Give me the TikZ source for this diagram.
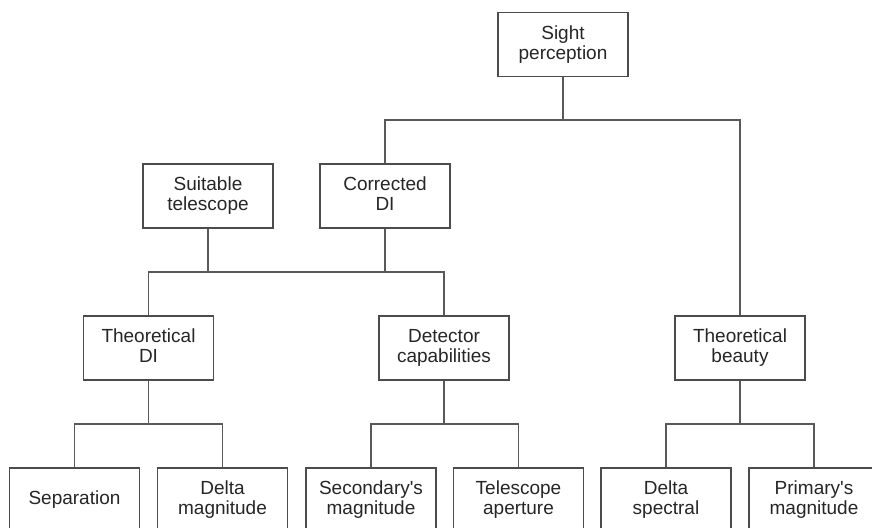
\documentclass[tikz,border=0pt]{standalone}
\usepackage{fontspec}
\setmainfont{Liberation Sans}
\usepackage{tikz}
\usetikzlibrary{positioning,calc}

\begin{document}
\begin{tikzpicture}[
  x=0.5pt, y=-0.5pt,
  box/.style={rectangle, draw=black!70, line width=0.7pt, fill=white,
    minimum width=65pt, minimum height=32pt, inner sep=0pt,
    font=\fontsize{9.5}{10}\selectfont, text=black!85, align=center,
    execute at begin node=\vphantom{Ig}, execute at end node=\vphantom{Ig}},
  link/.style={draw=black!65, line width=0.7pt}
]
  \useasboundingbox (0,0) rectangle (872,527);
  \clip (0,0) rectangle (872,527);

  \node[box] (sight) at (563, 44.5) {Sight\\perception};

  \node[box] (suitable) at (208, 196) {Suitable\\telescope};
  \node[box] (corrected) at (385, 196) {Corrected\\DI};

  \node[box] (theodi) at (148.5, 348) {Theoretical\\DI};
  \node[box] (detector) at (444, 348) {Detector\\capabilities};
  \node[box] (beauty) at (740, 348) {Theoretical\\beauty};

  \node[box] (separation) at (74.5, 500) {Separation};
  \node[box] (deltamag) at (222.5, 500) {Delta\\magnitude};
  \node[box] (secmag) at (371, 500) {Secondary\textquotesingle s\\magnitude};
  \node[box] (aperture) at (518.5, 500) {Telescope\\aperture};
  \node[box] (deltaspec) at (666, 500) {Delta\\spectral};
  \node[box] (primmag) at (814, 500) {Primary\textquotesingle s\\magnitude};

  % junctions of the tree
  \coordinate (jtop) at (563, 120);
  \coordinate (jmid) at (296, 272);
  \coordinate (jdi) at (148.5, 424);
  \coordinate (jdet) at (444, 424);
  \coordinate (jbeauty) at (740, 424);

  \draw[link] (sight) -- (jtop);
  \draw[link] (corrected) |- (jtop) -| (beauty);

  \draw[link] (suitable) -- (suitable |- jmid);
  \draw[link] (corrected) -- (corrected |- jmid);
  \draw[link] (theodi) |- (jmid) -| (detector);

  \draw[link] (theodi) -- (jdi);
  \draw[link] (separation) |- (jdi) -| (deltamag);
  \draw[link] (detector) -- (jdet);
  \draw[link] (secmag) |- (jdet) -| (aperture);
  \draw[link] (beauty) -- (jbeauty);
  \draw[link] (deltaspec) |- (jbeauty) -| (primmag);
\end{tikzpicture}
\end{document}
